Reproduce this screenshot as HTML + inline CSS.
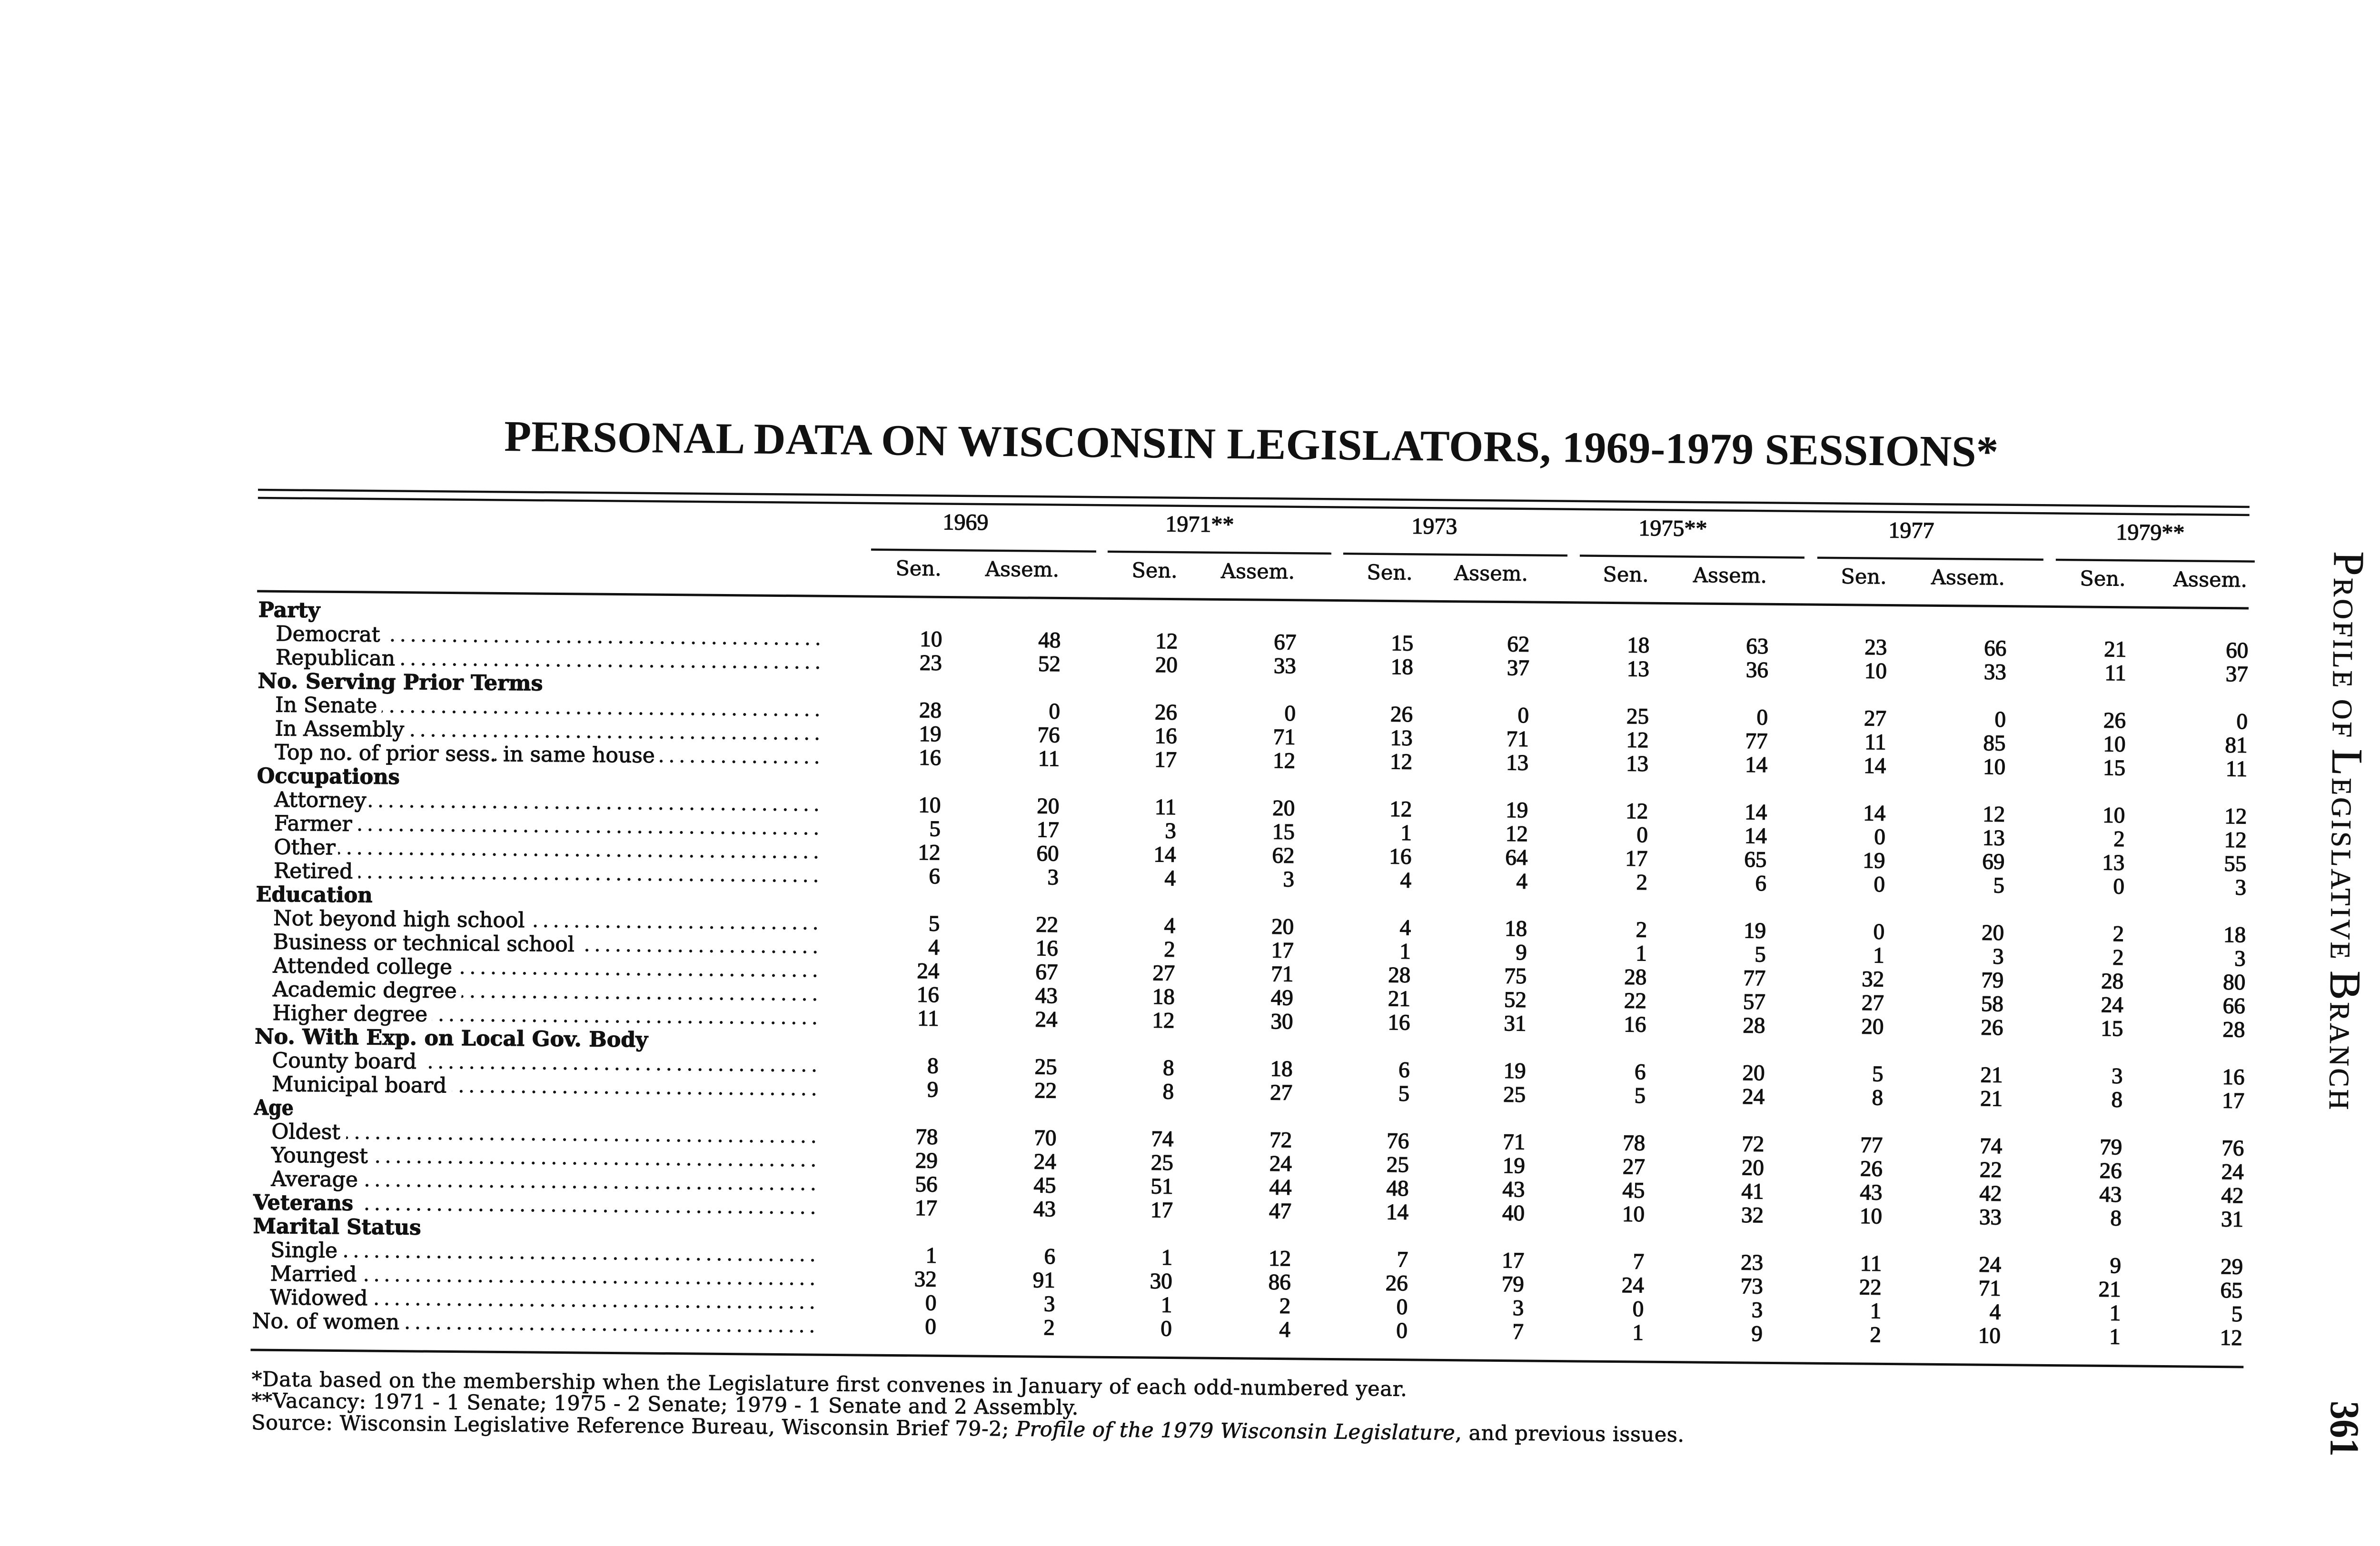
<!DOCTYPE html>
<html><head><meta charset="utf-8"><title>Personal Data on Wisconsin Legislators</title>
<style>
html,body{margin:0;padding:0;background:#fff;width:5220px;height:3248px;overflow:hidden}
svg{display:block}
.m text{fill:#fff;stroke:#fff;stroke-width:26px;stroke-linejoin:round}
.lab{font-family:"DejaVu Serif","Liberation Serif",serif;font-size:44px}
.sec{font-family:"DejaVu Serif","Liberation Serif",serif;font-weight:bold;font-size:44px}
.t text{fill:#111;stroke:#111;stroke-width:1.1px}
.n{font-family:"Liberation Serif",serif;font-size:47px;fill:#111;text-anchor:end;stroke:#111;stroke-width:1.3px}
.yr{font-family:"Liberation Serif",serif;font-size:48px;fill:#111;text-anchor:middle;stroke:#111;stroke-width:1.2px}
.hd{font-family:"DejaVu Serif","Liberation Serif",serif;font-size:43px;fill:#111;text-anchor:middle;stroke:#111;stroke-width:0.9px}
.fn{font-family:"DejaVu Serif","Liberation Serif",serif;font-size:43px;fill:#111;stroke:#111;stroke-width:0.8px}
.d{stroke:#111;stroke-width:6;stroke-linecap:round;stroke-dasharray:0.1 21.7;fill:none}
.r{stroke:#111;fill:none}
</style></head>
<body>
<svg xmlns="http://www.w3.org/2000/svg" width="5220" height="3248" viewBox="0 0 5220 3248">
<rect width="5220" height="3248" fill="#fff"/>

<text x="1059" y="947" transform="rotate(0.6 1059 947)" font-family="Liberation Serif, serif" font-weight="bold" font-size="92" fill="#111" textLength="3139" lengthAdjust="spacingAndGlyphs">PERSONAL DATA ON WISCONSIN LEGISLATORS, 1969-1979 SESSIONS*</text>

<g transform="rotate(0.493 541 1027)">
<!-- top double rule -->
<line class="r" x1="542" y1="1029" x2="4726" y2="1029" stroke-width="4.5"/>
<line class="r" x1="542" y1="1046" x2="4726" y2="1046" stroke-width="4.5"/>

<!-- years -->
<text class="yr" x="2029" y="1100">1969</text>
<text class="yr" x="2521" y="1100">1971**</text>
<text class="yr" x="3014" y="1100">1973</text>
<text class="yr" x="3515" y="1100">1975**</text>
<text class="yr" x="4016" y="1100">1977</text>
<text class="yr" x="4518" y="1100">1979**</text>

<!-- year underlines -->
<line class="r" x1="1831" y1="1143.5" x2="2304" y2="1143.5" stroke-width="4.5"/>
<line class="r" x1="2328" y1="1143.5" x2="2798" y2="1143.5" stroke-width="4.5"/>
<line class="r" x1="2823" y1="1143.5" x2="3294" y2="1143.5" stroke-width="4.5"/>
<line class="r" x1="3320" y1="1143.5" x2="3792" y2="1143.5" stroke-width="4.5"/>
<line class="r" x1="3819" y1="1143.5" x2="4294" y2="1143.5" stroke-width="4.5"/>
<line class="r" x1="4320" y1="1143.5" x2="4738" y2="1143.5" stroke-width="4.5"/>

<!-- Sen / Assem -->
<text class="hd" y="1197"><tspan x="1931">Sen.</tspan><tspan x="2149">Assem.</tspan><tspan x="2427">Sen.</tspan><tspan x="2644">Assem.</tspan><tspan x="2921">Sen.</tspan><tspan x="3134">Assem.</tspan><tspan x="3417">Sen.</tspan><tspan x="3636">Assem.</tspan><tspan x="3917">Sen.</tspan><tspan x="4136">Assem.</tspan><tspan x="4419">Sen.</tspan><tspan x="4645">Assem.</tspan></text>

<!-- header bottom rule -->
<line class="r" x1="542" y1="1242" x2="4726" y2="1242" stroke-width="5"/>

<!-- dot leaders -->
<line class="d" x1="1721" y1="1342.8" x2="592" y2="1342.8"/>
<line class="d" x1="1721" y1="1392.6" x2="592" y2="1392.6"/>
<line class="d" x1="1721" y1="1492.2" x2="592" y2="1492.2"/>
<line class="d" x1="1721" y1="1542" x2="592" y2="1542"/>
<line class="d" x1="1721" y1="1591.8" x2="592" y2="1591.8"/>
<line class="d" x1="1721" y1="1691.4" x2="592" y2="1691.4"/>
<line class="d" x1="1721" y1="1741.2" x2="592" y2="1741.2"/>
<line class="d" x1="1721" y1="1791" x2="592" y2="1791"/>
<line class="d" x1="1721" y1="1840.8" x2="592" y2="1840.8"/>
<line class="d" x1="1721" y1="1940.4" x2="592" y2="1940.4"/>
<line class="d" x1="1721" y1="1990.2" x2="592" y2="1990.2"/>
<line class="d" x1="1721" y1="2040" x2="592" y2="2040"/>
<line class="d" x1="1721" y1="2089.8" x2="592" y2="2089.8"/>
<line class="d" x1="1721" y1="2139.6" x2="592" y2="2139.6"/>
<line class="d" x1="1721" y1="2239.2" x2="592" y2="2239.2"/>
<line class="d" x1="1721" y1="2289" x2="592" y2="2289"/>
<line class="d" x1="1721" y1="2388.6" x2="592" y2="2388.6"/>
<line class="d" x1="1721" y1="2438.4" x2="592" y2="2438.4"/>
<line class="d" x1="1721" y1="2488.2" x2="592" y2="2488.2"/>
<line class="d" x1="1721" y1="2538" x2="555" y2="2538"/>
<line class="d" x1="1721" y1="2637.6" x2="592" y2="2637.6"/>
<line class="d" x1="1721" y1="2687.4" x2="592" y2="2687.4"/>
<line class="d" x1="1721" y1="2737.2" x2="592" y2="2737.2"/>
<line class="d" x1="1721" y1="2787" x2="555" y2="2787"/>

<!-- label masks (hide dots beneath text) -->
<g class="m">
<text class="lab" x="582" y="1345.8">Democrat</text>
<text class="lab" x="582" y="1395.6">Republican</text>
<text class="lab" x="582" y="1495.2">In Senate</text>
<text class="lab" x="582" y="1545">In Assembly</text>
<text class="lab" x="582" y="1594.8">Top no. of prior sess. in same house</text>
<text class="lab" x="582" y="1694.4">Attorney</text>
<text class="lab" x="582" y="1744.2">Farmer</text>
<text class="lab" x="582" y="1794">Other</text>
<text class="lab" x="582" y="1843.8">Retired</text>
<text class="lab" x="582" y="1943.4">Not beyond high school</text>
<text class="lab" x="582" y="1993.2">Business or technical school</text>
<text class="lab" x="582" y="2043">Attended college</text>
<text class="lab" x="582" y="2092.8">Academic degree</text>
<text class="lab" x="582" y="2142.6">Higher degree</text>
<text class="lab" x="582" y="2242.2">County board</text>
<text class="lab" x="582" y="2292">Municipal board</text>
<text class="lab" x="582" y="2391.6">Oldest</text>
<text class="lab" x="582" y="2441.4">Youngest</text>
<text class="lab" x="582" y="2491.2">Average</text>
<text class="sec" x="545" y="2541" textLength="210" lengthAdjust="spacingAndGlyphs">Veterans</text>
<text class="lab" x="582" y="2640.6">Single</text>
<text class="lab" x="582" y="2690.4">Married</text>
<text class="lab" x="582" y="2740.2">Widowed</text>
<text class="lab" x="545" y="2790">No. of women</text>
</g>

<!-- labels -->
<g class="t">
<text class="sec" x="545" y="1296">Party</text>
<text class="lab" x="582" y="1345.8">Democrat</text>
<text class="lab" x="582" y="1395.6">Republican</text>
<text class="sec" x="545" y="1445.4" textLength="599" lengthAdjust="spacingAndGlyphs">No. Serving Prior Terms</text>
<text class="lab" x="582" y="1495.2">In Senate</text>
<text class="lab" x="582" y="1545">In Assembly</text>
<text class="lab" x="582" y="1594.8">Top no. of prior sess. in same house</text>
<text class="sec" x="545" y="1644.6" textLength="300" lengthAdjust="spacingAndGlyphs">Occupations</text>
<text class="lab" x="582" y="1694.4">Attorney</text>
<text class="lab" x="582" y="1744.2">Farmer</text>
<text class="lab" x="582" y="1794">Other</text>
<text class="lab" x="582" y="1843.8">Retired</text>
<text class="sec" x="545" y="1893.6" textLength="245" lengthAdjust="spacingAndGlyphs">Education</text>
<text class="lab" x="582" y="1943.4">Not beyond high school</text>
<text class="lab" x="582" y="1993.2">Business or technical school</text>
<text class="lab" x="582" y="2043">Attended college</text>
<text class="lab" x="582" y="2092.8">Academic degree</text>
<text class="lab" x="582" y="2142.6">Higher degree</text>
<text class="sec" x="545" y="2192.4" textLength="826" lengthAdjust="spacingAndGlyphs">No. With Exp. on Local Gov. Body</text>
<text class="lab" x="582" y="2242.2">County board</text>
<text class="lab" x="582" y="2292">Municipal board</text>
<text class="sec" x="545" y="2341.8" textLength="83" lengthAdjust="spacingAndGlyphs">Age</text>
<text class="lab" x="582" y="2391.6">Oldest</text>
<text class="lab" x="582" y="2441.4">Youngest</text>
<text class="lab" x="582" y="2491.2">Average</text>
<text class="sec" x="545" y="2541" textLength="210" lengthAdjust="spacingAndGlyphs">Veterans</text>
<text class="sec" x="545" y="2590.8" textLength="353" lengthAdjust="spacingAndGlyphs">Marital Status</text>
<text class="lab" x="582" y="2640.6">Single</text>
<text class="lab" x="582" y="2690.4">Married</text>
<text class="lab" x="582" y="2740.2">Widowed</text>
<text class="lab" x="545" y="2790">No. of women</text>
</g>

<!-- numbers -->
<text class="n" y="1345.8"><tspan x="1982">10</tspan><tspan x="2231">48</tspan><tspan x="2477">12</tspan><tspan x="2726">67</tspan><tspan x="2972">15</tspan><tspan x="3216">62</tspan><tspan x="3468">18</tspan><tspan x="3718">63</tspan><tspan x="3967">23</tspan><tspan x="4218">66</tspan><tspan x="4470">21</tspan><tspan x="4726">60</tspan></text>
<text class="n" y="1395.6"><tspan x="1982">23</tspan><tspan x="2231">52</tspan><tspan x="2477">20</tspan><tspan x="2726">33</tspan><tspan x="2972">18</tspan><tspan x="3216">37</tspan><tspan x="3468">13</tspan><tspan x="3718">36</tspan><tspan x="3967">10</tspan><tspan x="4218">33</tspan><tspan x="4470">11</tspan><tspan x="4726">37</tspan></text>
<text class="n" y="1495.2"><tspan x="1982">28</tspan><tspan x="2231">0</tspan><tspan x="2477">26</tspan><tspan x="2726">0</tspan><tspan x="2972">26</tspan><tspan x="3216">0</tspan><tspan x="3468">25</tspan><tspan x="3718">0</tspan><tspan x="3967">27</tspan><tspan x="4218">0</tspan><tspan x="4470">26</tspan><tspan x="4726">0</tspan></text>
<text class="n" y="1545"><tspan x="1982">19</tspan><tspan x="2231">76</tspan><tspan x="2477">16</tspan><tspan x="2726">71</tspan><tspan x="2972">13</tspan><tspan x="3216">71</tspan><tspan x="3468">12</tspan><tspan x="3718">77</tspan><tspan x="3967">11</tspan><tspan x="4218">85</tspan><tspan x="4470">10</tspan><tspan x="4726">81</tspan></text>
<text class="n" y="1594.8"><tspan x="1982">16</tspan><tspan x="2231">11</tspan><tspan x="2477">17</tspan><tspan x="2726">12</tspan><tspan x="2972">12</tspan><tspan x="3216">13</tspan><tspan x="3468">13</tspan><tspan x="3718">14</tspan><tspan x="3967">14</tspan><tspan x="4218">10</tspan><tspan x="4470">15</tspan><tspan x="4726">11</tspan></text>
<text class="n" y="1694.4"><tspan x="1982">10</tspan><tspan x="2231">20</tspan><tspan x="2477">11</tspan><tspan x="2726">20</tspan><tspan x="2972">12</tspan><tspan x="3216">19</tspan><tspan x="3468">12</tspan><tspan x="3718">14</tspan><tspan x="3967">14</tspan><tspan x="4218">12</tspan><tspan x="4470">10</tspan><tspan x="4726">12</tspan></text>
<text class="n" y="1744.2"><tspan x="1982">5</tspan><tspan x="2231">17</tspan><tspan x="2477">3</tspan><tspan x="2726">15</tspan><tspan x="2972">1</tspan><tspan x="3216">12</tspan><tspan x="3468">0</tspan><tspan x="3718">14</tspan><tspan x="3967">0</tspan><tspan x="4218">13</tspan><tspan x="4470">2</tspan><tspan x="4726">12</tspan></text>
<text class="n" y="1794"><tspan x="1982">12</tspan><tspan x="2231">60</tspan><tspan x="2477">14</tspan><tspan x="2726">62</tspan><tspan x="2972">16</tspan><tspan x="3216">64</tspan><tspan x="3468">17</tspan><tspan x="3718">65</tspan><tspan x="3967">19</tspan><tspan x="4218">69</tspan><tspan x="4470">13</tspan><tspan x="4726">55</tspan></text>
<text class="n" y="1843.8"><tspan x="1982">6</tspan><tspan x="2231">3</tspan><tspan x="2477">4</tspan><tspan x="2726">3</tspan><tspan x="2972">4</tspan><tspan x="3216">4</tspan><tspan x="3468">2</tspan><tspan x="3718">6</tspan><tspan x="3967">0</tspan><tspan x="4218">5</tspan><tspan x="4470">0</tspan><tspan x="4726">3</tspan></text>
<text class="n" y="1943.4"><tspan x="1982">5</tspan><tspan x="2231">22</tspan><tspan x="2477">4</tspan><tspan x="2726">20</tspan><tspan x="2972">4</tspan><tspan x="3216">18</tspan><tspan x="3468">2</tspan><tspan x="3718">19</tspan><tspan x="3967">0</tspan><tspan x="4218">20</tspan><tspan x="4470">2</tspan><tspan x="4726">18</tspan></text>
<text class="n" y="1993.2"><tspan x="1982">4</tspan><tspan x="2231">16</tspan><tspan x="2477">2</tspan><tspan x="2726">17</tspan><tspan x="2972">1</tspan><tspan x="3216">9</tspan><tspan x="3468">1</tspan><tspan x="3718">5</tspan><tspan x="3967">1</tspan><tspan x="4218">3</tspan><tspan x="4470">2</tspan><tspan x="4726">3</tspan></text>
<text class="n" y="2043"><tspan x="1982">24</tspan><tspan x="2231">67</tspan><tspan x="2477">27</tspan><tspan x="2726">71</tspan><tspan x="2972">28</tspan><tspan x="3216">75</tspan><tspan x="3468">28</tspan><tspan x="3718">77</tspan><tspan x="3967">32</tspan><tspan x="4218">79</tspan><tspan x="4470">28</tspan><tspan x="4726">80</tspan></text>
<text class="n" y="2092.8"><tspan x="1982">16</tspan><tspan x="2231">43</tspan><tspan x="2477">18</tspan><tspan x="2726">49</tspan><tspan x="2972">21</tspan><tspan x="3216">52</tspan><tspan x="3468">22</tspan><tspan x="3718">57</tspan><tspan x="3967">27</tspan><tspan x="4218">58</tspan><tspan x="4470">24</tspan><tspan x="4726">66</tspan></text>
<text class="n" y="2142.6"><tspan x="1982">11</tspan><tspan x="2231">24</tspan><tspan x="2477">12</tspan><tspan x="2726">30</tspan><tspan x="2972">16</tspan><tspan x="3216">31</tspan><tspan x="3468">16</tspan><tspan x="3718">28</tspan><tspan x="3967">20</tspan><tspan x="4218">26</tspan><tspan x="4470">15</tspan><tspan x="4726">28</tspan></text>
<text class="n" y="2242.2"><tspan x="1982">8</tspan><tspan x="2231">25</tspan><tspan x="2477">8</tspan><tspan x="2726">18</tspan><tspan x="2972">6</tspan><tspan x="3216">19</tspan><tspan x="3468">6</tspan><tspan x="3718">20</tspan><tspan x="3967">5</tspan><tspan x="4218">21</tspan><tspan x="4470">3</tspan><tspan x="4726">16</tspan></text>
<text class="n" y="2292"><tspan x="1982">9</tspan><tspan x="2231">22</tspan><tspan x="2477">8</tspan><tspan x="2726">27</tspan><tspan x="2972">5</tspan><tspan x="3216">25</tspan><tspan x="3468">5</tspan><tspan x="3718">24</tspan><tspan x="3967">8</tspan><tspan x="4218">21</tspan><tspan x="4470">8</tspan><tspan x="4726">17</tspan></text>
<text class="n" y="2391.6"><tspan x="1982">78</tspan><tspan x="2231">70</tspan><tspan x="2477">74</tspan><tspan x="2726">72</tspan><tspan x="2972">76</tspan><tspan x="3216">71</tspan><tspan x="3468">78</tspan><tspan x="3718">72</tspan><tspan x="3967">77</tspan><tspan x="4218">74</tspan><tspan x="4470">79</tspan><tspan x="4726">76</tspan></text>
<text class="n" y="2441.4"><tspan x="1982">29</tspan><tspan x="2231">24</tspan><tspan x="2477">25</tspan><tspan x="2726">24</tspan><tspan x="2972">25</tspan><tspan x="3216">19</tspan><tspan x="3468">27</tspan><tspan x="3718">20</tspan><tspan x="3967">26</tspan><tspan x="4218">22</tspan><tspan x="4470">26</tspan><tspan x="4726">24</tspan></text>
<text class="n" y="2491.2"><tspan x="1982">56</tspan><tspan x="2231">45</tspan><tspan x="2477">51</tspan><tspan x="2726">44</tspan><tspan x="2972">48</tspan><tspan x="3216">43</tspan><tspan x="3468">45</tspan><tspan x="3718">41</tspan><tspan x="3967">43</tspan><tspan x="4218">42</tspan><tspan x="4470">43</tspan><tspan x="4726">42</tspan></text>
<text class="n" y="2541"><tspan x="1982">17</tspan><tspan x="2231">43</tspan><tspan x="2477">17</tspan><tspan x="2726">47</tspan><tspan x="2972">14</tspan><tspan x="3216">40</tspan><tspan x="3468">10</tspan><tspan x="3718">32</tspan><tspan x="3967">10</tspan><tspan x="4218">33</tspan><tspan x="4470">8</tspan><tspan x="4726">31</tspan></text>
<text class="n" y="2640.6"><tspan x="1982">1</tspan><tspan x="2231">6</tspan><tspan x="2477">1</tspan><tspan x="2726">12</tspan><tspan x="2972">7</tspan><tspan x="3216">17</tspan><tspan x="3468">7</tspan><tspan x="3718">23</tspan><tspan x="3967">11</tspan><tspan x="4218">24</tspan><tspan x="4470">9</tspan><tspan x="4726">29</tspan></text>
<text class="n" y="2690.4"><tspan x="1982">32</tspan><tspan x="2231">91</tspan><tspan x="2477">30</tspan><tspan x="2726">86</tspan><tspan x="2972">26</tspan><tspan x="3216">79</tspan><tspan x="3468">24</tspan><tspan x="3718">73</tspan><tspan x="3967">22</tspan><tspan x="4218">71</tspan><tspan x="4470">21</tspan><tspan x="4726">65</tspan></text>
<text class="n" y="2740.2"><tspan x="1982">0</tspan><tspan x="2231">3</tspan><tspan x="2477">1</tspan><tspan x="2726">2</tspan><tspan x="2972">0</tspan><tspan x="3216">3</tspan><tspan x="3468">0</tspan><tspan x="3718">3</tspan><tspan x="3967">1</tspan><tspan x="4218">4</tspan><tspan x="4470">1</tspan><tspan x="4726">5</tspan></text>
<text class="n" y="2790"><tspan x="1982">0</tspan><tspan x="2231">2</tspan><tspan x="2477">0</tspan><tspan x="2726">4</tspan><tspan x="2972">0</tspan><tspan x="3216">7</tspan><tspan x="3468">1</tspan><tspan x="3718">9</tspan><tspan x="3967">2</tspan><tspan x="4218">10</tspan><tspan x="4470">1</tspan><tspan x="4726">12</tspan></text>

<!-- bottom rule -->
<line class="r" x1="542" y1="2836" x2="4729" y2="2836" stroke-width="5"/>

<!-- footnotes -->
<text class="fn" x="545" y="2912" textLength="2427" lengthAdjust="spacing">*Data based on the membership when the Legislature first convenes in January of each odd-numbered year.</text>
<text class="fn" x="545" y="2957" textLength="1737" lengthAdjust="spacing">**Vacancy: 1971 - 1 Senate; 1975 - 2 Senate; 1979 - 1 Senate and 2 Assembly.</text>
<text class="fn" x="545" y="3003" textLength="3010" lengthAdjust="spacing">Source: Wisconsin Legislative Reference Bureau, Wisconsin Brief 79-2; <tspan font-style="italic">Profile of the 1979 Wisconsin Legislature</tspan>, and previous issues.</text>
</g>

<!-- running head (vertical) -->
<text transform="translate(4904 1158) rotate(90.49)" font-family="Liberation Serif, serif" font-size="92" fill="#111" stroke="#111" stroke-width="0.8" textLength="1173" lengthAdjust="spacing">P<tspan font-size="59">ROFILE OF </tspan>L<tspan font-size="59">EGISLATIVE </tspan>B<tspan font-size="59">RANCH</tspan></text>

<!-- page number -->
<text transform="translate(4897 2943) rotate(90.49)" font-family="Liberation Serif, serif" font-weight="bold" font-size="87" fill="#111" textLength="117" lengthAdjust="spacingAndGlyphs">361</text>
</svg>
</body></html>
